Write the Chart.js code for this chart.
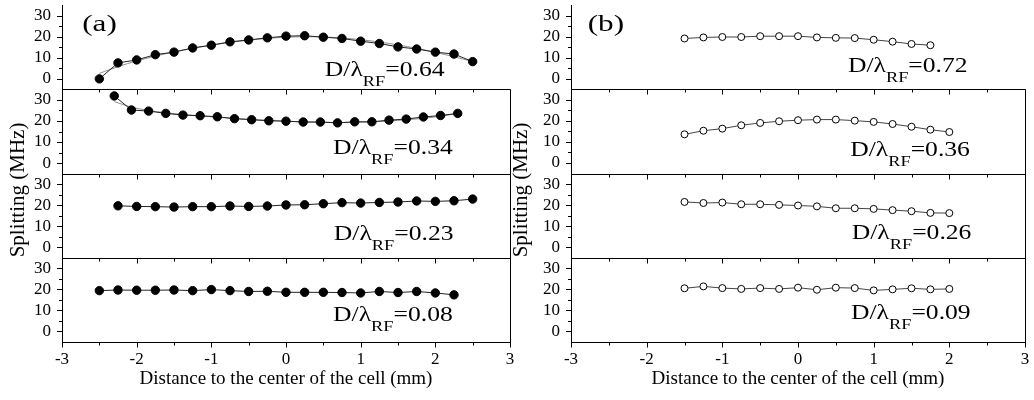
<!DOCTYPE html>
<html>
<head>
<meta charset="utf-8">
<script src="https://cdn.jsdelivr.net/npm/chart.js@4.4.1/dist/chart.umd.min.js"></script>
<style>
  html, body { margin: 0; padding: 0; background: #fff; }
  #wrap { position: relative; width: 1034px; height: 400px; overflow: hidden; }
  canvas { position: absolute; top: 0; }
  #chart-a { left: 0; }
  #chart-b { left: 500px; }
</style>
</head>
<body>
<div id="wrap">
  <canvas id="chart-a" width="517" height="400"></canvas>
  <canvas id="chart-b" width="534" height="400"></canvas>
</div>
<script>
const FONT = '"Liberation Serif", "Times New Roman", serif';
const X_TITLE = 'Distance to the center of the cell (mm)';
const Y_TITLE = 'Splitting (MHz)';

// panel (a): positions (mm) and splitting (MHz), filled circles
const xA1 = [-2.5, -2.25, -2, -1.75, -1.5, -1.25, -1, -0.75, -0.5, -0.25, 0, 0.25, 0.5, 0.75, 1, 1.25, 1.5, 1.75, 2, 2.25, 2.5];
const yA1 = [0, 7.6, 9.0, 11.5, 12.7, 14.7, 16.0, 17.6, 18.5, 19.5, 20.3, 20.5, 19.8, 19.2, 17.9, 16.8, 15.2, 14.2, 12.7, 11.8, 8.2];
const fitA1 = [2.6, 5.8, 8.5, 10.8, 12.8, 14.5, 16.0, 17.3, 18.4, 19.2, 19.8, 20.0, 19.9, 19.4, 18.6, 17.5, 16.1, 14.5, 12.6, 10.5, 8.2];

const xA2 = [-2.3, -2.07, -1.84, -1.61, -1.38, -1.15, -0.92, -0.69, -0.46, -0.23, 0, 0.23, 0.46, 0.69, 0.92, 1.15, 1.38, 1.61, 1.84, 2.07, 2.3];
const yA2 = [31.9, 25.2, 24.7, 23.6, 22.8, 22.5, 22.0, 21.1, 20.6, 20.1, 19.9, 19.5, 19.5, 19.1, 19.6, 19.6, 20.4, 20.9, 21.9, 22.6, 23.6];
const fitA2 = [29.2, 26.6, 25.0, 23.9, 23.1, 22.4, 21.8, 21.2, 20.7, 20.3, 19.9, 19.6, 19.4, 19.3, 19.4, 19.6, 20.0, 20.6, 21.3, 22.3, 23.5];

const xA3 = [-2.25, -2, -1.75, -1.5, -1.25, -1, -0.75, -0.5, -0.25, 0, 0.25, 0.5, 0.75, 1, 1.25, 1.5, 1.75, 2, 2.25, 2.5];
const yA3 = [19.7, 19.4, 19.3, 19.1, 19.3, 19.3, 19.6, 19.4, 19.6, 20.1, 20.2, 20.7, 21.2, 21.0, 21.3, 21.5, 22.0, 21.8, 22.1, 22.9];

const xA4 = [-2.5, -2.25, -2, -1.75, -1.5, -1.25, -1, -0.75, -0.5, -0.25, 0, 0.25, 0.5, 0.75, 1, 1.25, 1.5, 1.75, 2, 2.25];
const yA4 = [19.4, 19.7, 19.6, 19.6, 19.7, 19.4, 19.9, 19.4, 19.0, 19.1, 18.6, 18.6, 18.6, 18.5, 18.3, 19.0, 18.5, 19.0, 18.3, 17.4];

// panel (b): open circles
const xB1 = [-1.5, -1.25, -1, -0.75, -0.5, -0.25, 0, 0.25, 0.5, 0.75, 1, 1.25, 1.5, 1.75];
const yB1 = [19.1, 19.6, 19.8, 19.8, 20.2, 20.2, 20.2, 19.6, 19.4, 19.3, 18.5, 17.6, 16.5, 15.9];
const xB = [-1.5, -1.25, -1, -0.75, -0.5, -0.25, 0, 0.25, 0.5, 0.75, 1, 1.25, 1.5, 1.75, 2];
const yB2 = [13.6, 15.3, 16.3, 17.9, 19.0, 19.8, 20.3, 20.6, 20.6, 20.1, 19.5, 18.5, 17.2, 15.8, 14.7];
const yB3 = [21.5, 21.0, 21.2, 20.4, 20.4, 20.1, 19.8, 19.4, 18.5, 18.5, 18.2, 17.6, 17.1, 16.3, 16.2];
const yB4 = [20.5, 21.4, 20.6, 20.2, 20.6, 20.2, 20.8, 19.8, 20.8, 20.6, 19.5, 20.0, 20.5, 20.0, 20.2];

// D/lambda_RF of each row
const ratiosA = ['0.64', '0.34', '0.23', '0.08'];
const ratiosB = ['0.72', '0.36', '0.26', '0.09'];

// labelled y ticks of every row
const yTickValues = [0, 10, 20, 30];

// where the labels sit, in data units of each row
const labelAtA = [[0.52, 1.5], [0.63, 4.2], [0.64, 3.6], [0.63, 4.9]];
const labelAtB = [[0.66, 3.4], [0.69, 3.3], [0.71, 4.1], [0.70, 5.9]];

const rowIds = ['y1', 'y2', 'y3', 'y4'];

function pts(xs, ys) {
  return xs.map((x, i) => ({ x: x, y: ys[i] }));
}

function rowAxis(i) {
  return {
    type: 'linear',
    position: 'left',
    stack: 'rows',
    stackWeight: 1,
    weight: rowIds.length - i,
    min: -5,
    max: 35,
    border: { display: true, color: '#000', width: 1 },
    grid: { display: false, drawTicks: false },
    ticks: {
      autoSkip: false,
      padding: 11,
      color: '#000',
      font: { family: FONT, size: 17 }
    },
    afterBuildTicks: s => { s.ticks = yTickValues.map(v => ({ value: v })); },
    afterFit: s => { s.width = 38; s.paddingTop = 0; s.paddingBottom = 0; }
  };
}

function drawRatio(ctx, x, y, value) {
  ctx.save();
  ctx.translate(x, y);
  ctx.scale(1.22, 1);
  ctx.fillStyle = '#000';
  ctx.textBaseline = 'alphabetic';
  ctx.textAlign = 'left';
  ctx.font = '21px ' + FONT;
  ctx.fillText('D/λ', 0, 0);
  let w = ctx.measureText('D/λ').width;
  ctx.font = '15px ' + FONT;
  ctx.fillText('RF', w, 10);
  w += ctx.measureText('RF').width;
  ctx.font = '21px ' + FONT;
  ctx.fillText('=' + value, w, 0);
  ctx.restore();
}

// frame lines and ticks drawn the way the original plot has them
const framePlugin = {
  id: 'frame',
  beforeDatasetsDraw(chart) {
    const { ctx, chartArea, scales } = chart;
    const xs = scales.x;
    ctx.save();
    ctx.strokeStyle = '#000';
    ctx.lineWidth = 1;
    ctx.beginPath();
    rowIds.forEach((id, i) => {
      const ys = scales[id];
      const yb = Math.round(ys.bottom) + 0.5;
      if (i < rowIds.length - 1) {
        ctx.moveTo(chartArea.left, yb);
        ctx.lineTo(chartArea.right, yb);
      }
      for (let v = -3; v <= 3; v += 0.5) {
        const px = Math.round(xs.getPixelForValue(v)) + 0.5;
        const len = Number.isInteger(v) ? 5 : 3;
        ctx.moveTo(px, yb);
        ctx.lineTo(px, yb + len);
      }
      for (let v = 0; v <= 30; v += 5) {
        const py = Math.round(ys.getPixelForValue(v)) + 0.5;
        const len = v % 10 === 0 ? 5 : 3;
        ctx.moveTo(chartArea.left - len, py);
        ctx.lineTo(chartArea.left, py);
      }
    });
    const r = Math.round(chartArea.right) + 0.5;
    ctx.moveTo(r, scales[rowIds[1]].top);
    ctx.lineTo(r, chartArea.bottom);
    ctx.stroke();
    ctx.restore();
  },
  afterDraw(chart, args, opts) {
    const { ctx, scales } = chart;
    const xs = scales.x;

    ctx.save();
    ctx.fillStyle = '#000';
    ctx.font = '21px ' + FONT;
    ctx.textAlign = 'center';
    ctx.textBaseline = 'middle';
    ctx.translate(opts.titleX, opts.titleY);
    ctx.rotate(-Math.PI / 2);
    ctx.fillText(Y_TITLE, 0, 0);
    ctx.restore();

    ctx.save();
    ctx.fillStyle = '#000';
    ctx.font = '24px ' + FONT;
    ctx.textBaseline = 'alphabetic';
    ctx.translate(xs.getPixelForValue(opts.tagAt[0]), scales.y1.getPixelForValue(opts.tagAt[1]));
    ctx.scale(1.3, 1);
    ctx.fillText(opts.tag, 0, 0);
    ctx.restore();

    opts.ratios.forEach((value, i) => {
      const at = opts.labelAt[i];
      drawRatio(ctx, xs.getPixelForValue(at[0]), scales[rowIds[i]].getPixelForValue(at[1]), value);
    });
  }
};

function buildChart(canvasId, rows, marker, panel, padding) {
  const datasets = [];
  rows.forEach((row, i) => {
    datasets.push(Object.assign({
      data: pts(row.x, row.y),
      yAxisID: rowIds[i],
      order: 0
    }, marker));
    if (row.fit) {
      datasets.push({
        data: pts(row.x, row.fit),
        yAxisID: rowIds[i],
        borderColor: '#8c8c8c',
        borderWidth: 1,
        pointRadius: 0,
        tension: 0.4,
        order: 1
      });
    }
  });

  const scales = {
    x: {
      type: 'linear',
      position: 'bottom',
      min: -3,
      max: 3,
      border: { display: true, color: '#000', width: 1 },
      grid: { display: false, drawTicks: false },
      ticks: {
        stepSize: 1,
        autoSkip: false,
        maxRotation: 0,
        padding: 7,
        color: '#000',
        font: { family: FONT, size: 17 }
      },
      title: {
        display: true,
        text: X_TITLE,
        color: '#000',
        font: { family: FONT, size: 19 },
        padding: { top: 0, bottom: 10 }
      },
      afterFit: s => { s.height = 58; s.paddingLeft = 0; s.paddingRight = 0; }
    }
  };
  rowIds.forEach((id, i) => { scales[id] = rowAxis(i); });

  return new Chart(document.getElementById(canvasId), {
    type: 'line',
    data: { datasets: datasets },
    options: {
      responsive: false,
      animation: false,
      layout: { padding: padding },
      scales: scales,
      plugins: {
        legend: { display: false },
        tooltip: { enabled: false },
        frame: panel
      }
    },
    plugins: [framePlugin]
  });
}

buildChart('chart-a', [
  { x: xA1, y: yA1, fit: fitA1 },
  { x: xA2, y: yA2, fit: fitA2 },
  { x: xA3, y: yA3 },
  { x: xA4, y: yA4 }
], {
  borderColor: '#222',
  borderWidth: 1,
  pointRadius: 4.2,
  pointBorderWidth: 1,
  pointBackgroundColor: '#000',
  pointBorderColor: '#000',
  tension: 0
}, {
  tag: '(a)', tagAt: [-2.73, 22.7], ratios: ratiosA, labelAt: labelAtA, titleX: 18.5, titleY: 190
}, { left: 24, right: 7, top: 3, bottom: 0 });

buildChart('chart-b', [
  { x: xB1, y: yB1 },
  { x: xB, y: yB2 },
  { x: xB, y: yB3 },
  { x: xB, y: yB4 }
], {
  borderColor: '#444',
  borderWidth: 1,
  pointRadius: 3.5,
  pointBorderWidth: 1,
  pointBackgroundColor: '#fff',
  pointBorderColor: '#000',
  tension: 0
}, {
  tag: '(b)', tagAt: [-2.78, 22.7], ratios: ratiosB, labelAt: labelAtB, titleX: 21, titleY: 190
}, { left: 33, right: 9, top: 2, bottom: 0 });
</script>
</body>
</html>
